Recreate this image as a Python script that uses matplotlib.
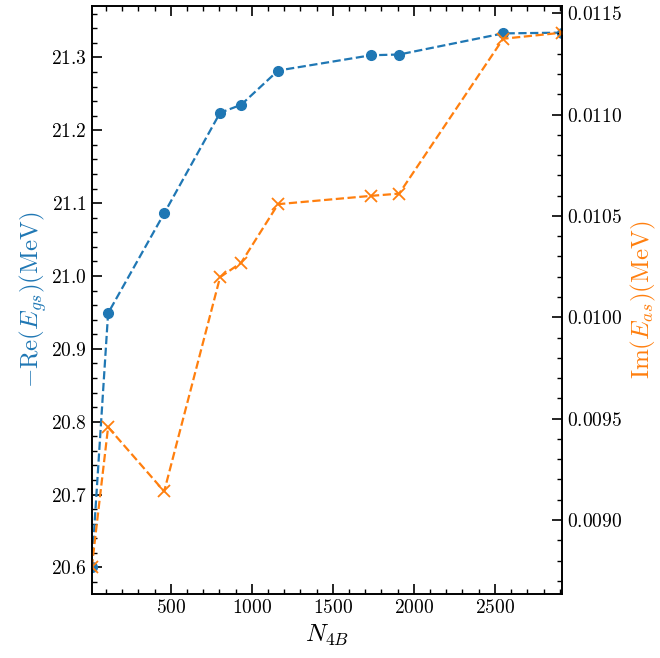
import numpy as np
import matplotlib
matplotlib.use("Agg")
import matplotlib.pyplot as plt
from matplotlib.ticker import MultipleLocator

plt.rcParams['font.family'] = 'serif'
plt.rcParams['font.serif'] = ['cmr10']
plt.rcParams['mathtext.fontset'] = 'cm'
plt.rcParams['axes.formatter.use_mathtext'] = True
plt.rcParams['axes.unicode_minus'] = True

# basis size and ground state energy (real and imaginary parts)
n_4b = [12, 113, 459, 804, 934, 1162, 1736, 1909, 2551, 2916]
re_e = [20.600, 20.949, 21.086, 21.224, 21.235, 21.282, 21.303, 21.304, 21.333, 21.334]
im_e = [0.008766, 0.009458, 0.009141, 0.010198, 0.010269, 0.010558,
        0.010599, 0.010610, 0.011374, 0.011404]

fig = plt.figure(figsize=(6.6, 6.58), dpi=100)
ax = fig.add_axes([0.139, 0.097, 0.713, 0.894])
ax.plot(n_4b, re_e, 'o--', color='C0', markersize=7, linewidth=1.6)
ax.set_xlim(min(n_4b), max(n_4b))
ax.set_xlabel(r'$N_{4B}$', fontsize=18)
ax.set_ylabel(r'$-\mathrm{Re}(E_{gs})(\mathrm{MeV})$', fontsize=18, color='C0', labelpad=1)
ax.xaxis.set_major_locator(MultipleLocator(500))
ax.xaxis.set_minor_locator(MultipleLocator(100))
ax.yaxis.set_major_locator(MultipleLocator(0.1))
ax.yaxis.set_minor_locator(MultipleLocator(0.02))
ax.tick_params(which='both', direction='in', top=True, right=False, labelsize=14)
ax.tick_params(which='major', length=7, width=1.2)
ax.tick_params(which='minor', length=3.5, width=1.0)

ax2 = ax.twinx()
ax2.plot(n_4b, im_e, 'x--', color='C1', markersize=8, linewidth=1.6, markeredgewidth=1.3)
ax2.set_ylabel(r'$\mathrm{Im}(E_{as})(\mathrm{MeV})$', fontsize=18, color='C1', labelpad=5)
ax2.yaxis.set_major_locator(MultipleLocator(0.0005))
ax2.yaxis.set_minor_locator(MultipleLocator(0.0001))
ax2.tick_params(which='both', direction='in', labelsize=14)
ax2.tick_params(which='major', length=7, width=1.2)
ax2.tick_params(which='minor', length=3.5, width=1.0)
for a in (ax, ax2):
    for s in a.spines.values():
        s.set_linewidth(1.2)

fig.savefig('out.png', dpi=100)
